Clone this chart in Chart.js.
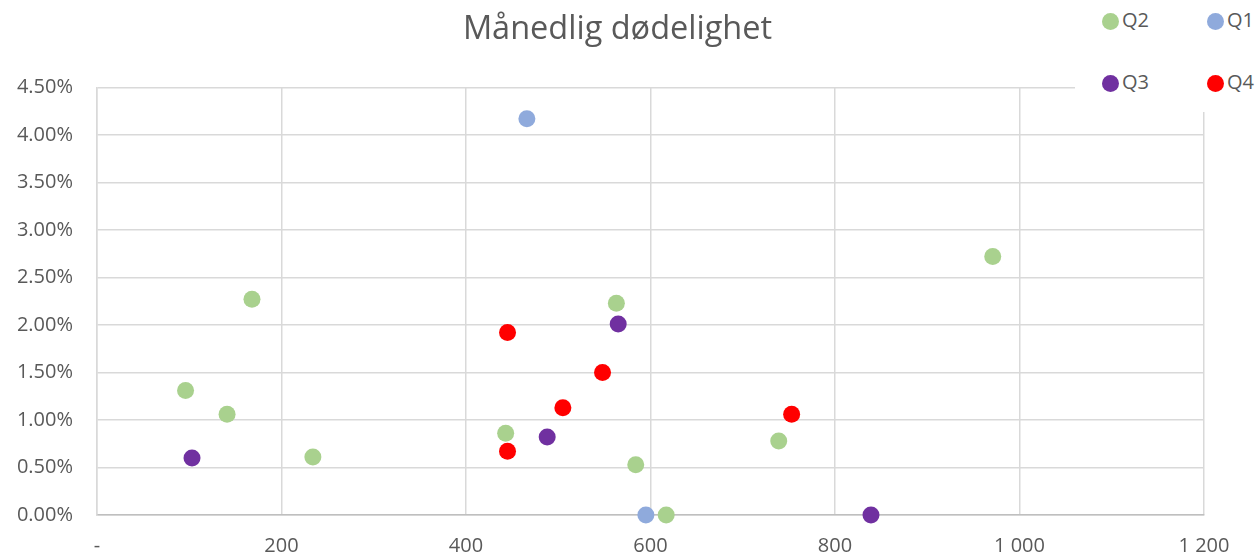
<!DOCTYPE html>
<html>
<head>
<meta charset="utf-8">
<script src="https://cdn.jsdelivr.net/npm/chart.js@4"></script>
<style>
  html, body { margin: 0; padding: 0; background: #fff; }
  #wrap { position: relative; width: 1258px; height: 556px; }
  #c { position: absolute; left: 0; top: 0; }
  #legend { position: absolute; left: 1075px; top: 0; width: 183px; height: 112px; background: #fff; font-family: "Open Sans", sans-serif; font-size: 20px; color: #595959; }
  .item { position: absolute; height: 24px; line-height: 24px; white-space: nowrap; }
  .dot { position: absolute; left: 0; top: 3.5px; width: 17px; height: 17px; border-radius: 50%; }
  .lbl { position: absolute; left: 14px; top: -1px; }
</style>
</head>
<body>
<div id="wrap">
  <canvas id="c" width="1258" height="556"></canvas>
  <div id="legend"></div>
</div>
<script>
const title = "Månedlig dødelighet";
const seriesNames = ["Q2", "Q1", "Q3", "Q4"];
const seriesColors = ["#A9D18E", "#8FAADC", "#7030A0", "#FF0000"];

const q2X = [96, 141, 168, 234, 443, 563, 584, 617, 739, 971];
const q2Y = [1.31, 1.06, 2.27, 0.61, 0.86, 2.23, 0.53, 0.00, 0.78, 2.72];
const q1X = [466, 595];
const q1Y = [4.17, 0.00];
const q3X = [103, 488, 565, 839];
const q3Y = [0.60, 0.82, 2.01, 0.00];
const q4X = [445, 445, 505, 548, 753];
const q4Y = [1.92, 0.67, 1.13, 1.50, 1.06];

const xTicks = [0, 200, 400, 600, 800, 1000, 1200];
const yTicks = [0, 0.5, 1, 1.5, 2, 2.5, 3, 3.5, 4, 4.5];

const seriesX = [q2X, q1X, q3X, q4X];
const seriesY = [q2Y, q1Y, q3Y, q4Y];

function fmtX(v) {
  if (v === 0) return "-";
  if (v >= 1000) return Math.floor(v / 1000) + " " + String(v % 1000).padStart(3, "0");
  return String(v);
}

const datasets = seriesNames.map((name, i) => ({
  label: name,
  data: seriesX[i].map((x, j) => ({ x: x, y: seriesY[i][j] })),
  backgroundColor: seriesColors[i],
  borderColor: seriesColors[i],
  borderWidth: 0,
  pointRadius: 8.5,
  pointHoverRadius: 8.5,
  clip: false
}));

// HTML legend (2 x 2 grid, order as in reference)
const legendPos = [[27, 9], [132, 9], [27, 71], [132, 71]];
const legendEl = document.getElementById("legend");
seriesNames.forEach((name, i) => {
  const it = document.createElement("div");
  it.className = "item";
  it.style.left = legendPos[i][0] + "px";
  it.style.top = legendPos[i][1] + "px";
  const d = document.createElement("span");
  d.className = "dot";
  d.style.background = seriesColors[i];
  const t = document.createElement("span");
  t.className = "lbl";
  t.style.left = "20px";
  t.textContent = name;
  it.appendChild(d); it.appendChild(t);
  legendEl.appendChild(it);
});

const titleShift = {
  id: "titleShift",
  afterLayout(chart) {
    const tb = chart.titleBlock;
    if (tb) { tb.left = 0; tb.right = 1235; }
  }
};

new Chart(document.getElementById("c"), {
  type: "scatter",
  data: { datasets: datasets },
  plugins: [titleShift],
  options: {
    responsive: false,
    animation: false,
    events: [],
    layout: { padding: { left: 0, right: 54, top: 0, bottom: 0 } },
    plugins: {
      legend: { display: false },
      tooltip: { enabled: false },
      title: {
        display: true,
        text: title,
        color: "#595959",
        font: { family: "Open Sans", size: 32.5, weight: "normal" },
        padding: { top: 10, bottom: 38.5 }
      }
    },
    scales: {
      x: {
        type: "linear",
        min: 0, max: 1200,
        afterBuildTicks(scale) { scale.ticks = xTicks.map(v => ({ value: v })); },
        afterFit(scale) { scale.height = 41; },
        ticks: {
          callback: (v) => fmtX(v),
          color: "#595959",
          font: { family: "Open Sans", size: 20 },
          padding: 19,
          maxRotation: 0,
          autoSkip: false
        },
        grid: { color: "#d9d9d9", lineWidth: 1.5, drawTicks: false },
        border: { color: "#bfbfbf", width: 1.5 }
      },
      y: {
        type: "linear",
        min: 0, max: 4.5,
        afterBuildTicks(scale) { scale.ticks = yTicks.map(v => ({ value: v })); },
        afterFit(scale) { scale.width = 97; },
        ticks: {
          callback: (v) => v.toFixed(2) + "%",
          color: "#595959",
          font: { family: "Open Sans", size: 20 },
          padding: 24,
          autoSkip: false
        },
        grid: { color: "#d9d9d9", lineWidth: 1.5, drawTicks: false },
        border: { color: "#d9d9d9", width: 1.5 }
      }
    }
  }
});
</script>
</body>
</html>
